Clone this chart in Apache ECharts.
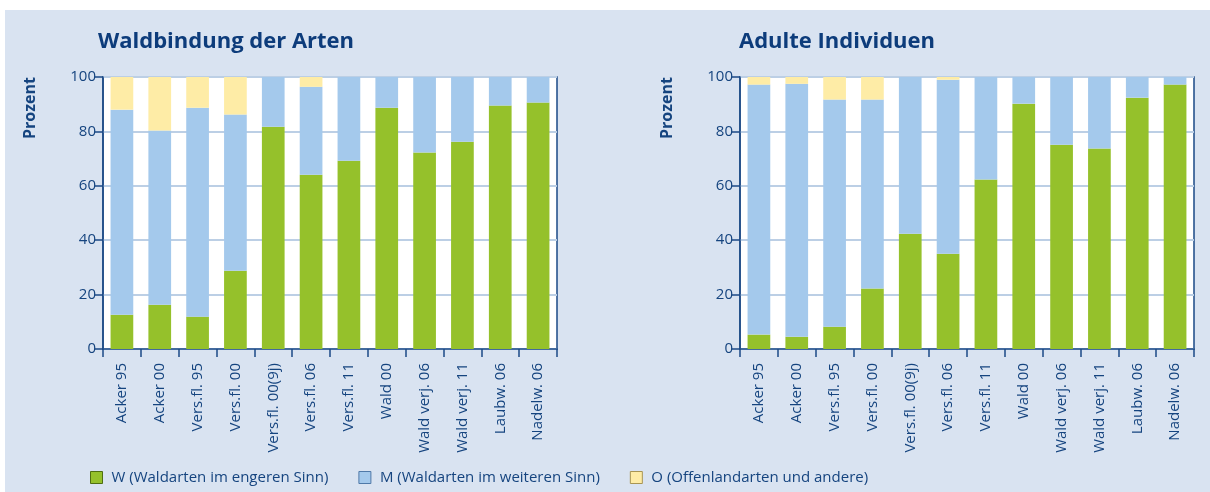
<!DOCTYPE html>
<html>
<head>
<meta charset="utf-8">
<script src="https://cdn.jsdelivr.net/npm/echarts@6/dist/echarts.min.js"></script>
<style>
  html, body { margin: 0; padding: 0; background: #fff; }
  #chart { width: 1210px; height: 492px; }
</style>
</head>
<body>
<div id="chart"></div>
<script>
const categories = ['Acker 95', 'Acker 00', 'Vers.fl. 95', 'Vers.fl. 00', 'Vers.fl. 00(9j)', 'Vers.fl. 06',
  'Vers.fl. 11', 'Wald 00', 'Wald verj. 06', 'Wald verj. 11', 'Laubw. 06', 'Nadelw. 06']
const seriesNames = ['W (Waldarten im engeren Sinn)', 'M (Waldarten im weiteren Sinn)', 'O (Offenlandarten und andere)']
const titles = ['Waldbindung der Arten', 'Adulte Individuen']
const yTicks = [0, 20, 40, 60, 80, 100]

// Waldbindung der Arten
const artenW = [12.6, 16.3, 11.9, 28.8, 81.7, 64.1, 69.2, 88.7, 72.2, 76.2, 89.5, 90.6]
const artenM = [75.4, 64.0, 76.8, 57.4, 18.3, 32.3, 30.8, 11.3, 27.8, 23.8, 10.5, 9.4]
const artenO = [12.0, 19.7, 11.3, 13.8, 0, 3.6, 0, 0, 0, 0, 0, 0]

// Adulte Individuen
const adultW = [5.3, 4.5, 8.2, 22.2, 42.4, 35.0, 62.3, 90.2, 75.1, 73.7, 92.4, 97.2]
const adultM = [91.9, 93.0, 83.5, 69.5, 57.6, 64.0, 37.7, 9.8, 24.9, 26.3, 7.6, 2.8]
const adultO = [2.8, 2.5, 8.3, 8.3, 0, 1.0, 0, 0, 0, 0, 0, 0]

const colors = ['#95c12b', '#a4c9ec', '#feeca6']
const borders = ['#4f6e12', '#4f79a8', '#a89553']
const dark = '#1b4a86'
const textColor = '#15447f'
const font = 'Open Sans'

const chart = echarts.init(document.getElementById('chart'))

const grids = [
  { left: 103, top: 77, width: 454, height: 272 },
  { left: 740, top: 77, width: 454, height: 272 }
].map(g => Object.assign(g, {
  show: true,
  backgroundColor: '#fff',
  borderColor: dark,
  borderWidth: 1.5
}))

const xAxes = [0, 1].map(i => ({
  type: 'category',
  gridIndex: i,
  data: categories,
  axisLine: { lineStyle: { color: dark, width: 1.5 } },
  axisTick: { show: true, length: 8, lineStyle: { color: dark, width: 1.5 } },
  axisLabel: { rotate: 90, margin: 14, color: textColor, fontSize: 15, fontFamily: font }
}))

const yAxes = [0, 1].map(i => ({
  type: 'value',
  gridIndex: i,
  min: yTicks[0],
  max: yTicks[yTicks.length - 1],
  interval: 20,
  axisLine: { show: true, lineStyle: { color: dark, width: 1.5 } },
  axisTick: { show: true, length: 8, lineStyle: { color: dark, width: 1.5 } },
  axisLabel: { margin: 7, color: textColor, fontSize: 15, fontFamily: font },
  splitLine: { lineStyle: { color: '#bccfe5', width: 2 } }
}))

const panels = [[artenW, artenM, artenO], [adultW, adultM, adultO]]
const series = []
panels.forEach((sets, i) => {
  sets.forEach((vals, j) => {
    series.push({
      name: seriesNames[j],
      type: 'bar',
      stack: 'panel' + i,
      xAxisIndex: i,
      yAxisIndex: i,
      barWidth: '60%',
      itemStyle: { color: colors[j] },
      data: vals
    })
  })
})

chart.setOption({
  backgroundColor: '#fff',
  animation: false,
  textStyle: { fontFamily: font },
  title: titles.map((t, i) => ({
    text: t,
    left: i === 0 ? 93 : 734,
    top: 26,
    textStyle: { color: '#0d3c7b', fontSize: 22, fontWeight: 'bold', fontFamily: font }
  })),
  legend: {
    left: 85,
    top: 465,
    itemWidth: 12,
    itemHeight: 12,
    itemGap: 30,
    icon: 'rect',
    textStyle: { color: textColor, fontSize: 15, fontFamily: font, padding: [0, 0, 0, 4] },
    data: seriesNames.map((n, j) => ({
      name: n,
      itemStyle: { color: colors[j], borderColor: borders[j], borderWidth: 1 }
    }))
  },
  graphic: [
    {
      type: 'rect',
      silent: true,
      z: -10,
      shape: { x: 5, y: 10, width: 1205, height: 482 },
      style: { fill: '#d9e3f1' }
    },
    ...[30, 667].map(x => ({
      type: 'text',
      x: x,
      y: 108,
      rotation: Math.PI / 2,
      style: {
        text: 'Prozent',
        fill: textColor,
        font: 'bold 16px "Open Sans"',
        align: 'center',
        verticalAlign: 'middle'
      }
    }))
  ],
  grid: grids,
  xAxis: xAxes,
  yAxis: yAxes,
  series: series
})
</script>
</body>
</html>
